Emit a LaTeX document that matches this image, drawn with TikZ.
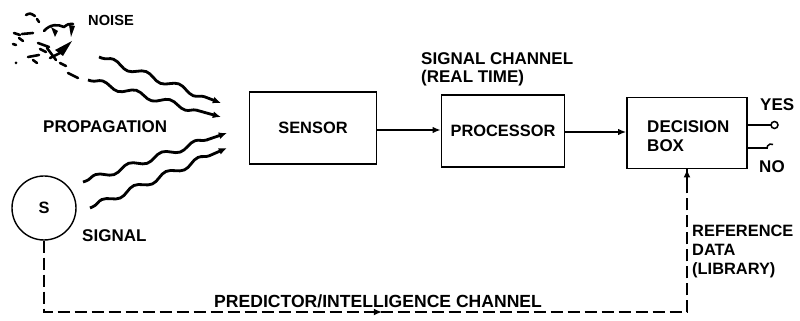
\documentclass[tikz,border=0pt]{standalone}
\usepackage{fontspec}
\setmainfont{Liberation Sans}
\usetikzlibrary{arrows.meta,decorations.pathmorphing,calc}
\begin{document}
\begin{tikzpicture}[x=0.03cm,y=-0.03cm,
  every node/.style={font=\fontsize{14.5}{16}\selectfont\bfseries, inner sep=0pt},
  small/.style={font=\fontsize{14}{16}\selectfont\bfseries},
  block/.style={draw, line width=1.2pt, minimum width=#1, minimum height=2.16cm},
  flow/.style={line width=1.3pt, -{Latex[length=7pt,width=5.5pt]}},
  wave/.style={line width=2.4pt, decorate,
    decoration={snake, segment length=1.05cm, amplitude=0.09cm,
      pre length=0.1cm, post length=0.25cm},
    -{Latex[length=7pt,width=6pt]}},
  fb/.style={line width=2.4pt, dash pattern=on 0.36cm off 0.15cm},
  speck/.style={line width=2.2pt, line cap=round, line join=round},
]
\useasboundingbox (0,0) rectangle (800,321);

% noise source: scattered specks
\begin{scope}[speck]
  \draw (26,15) .. controls (30,13) .. (35,16);
  \draw (37,19) -- (39,22);
  \draw (44,31) .. controls (50,24) and (58,24) .. (64,27) .. controls (68,24) .. (73,24);
  \fill (69,25) -- (75,26) -- (71,37) -- cycle;
  \fill (51,27) -- (58,31) -- (55,37) -- cycle;
  \draw (14,33) -- (20,35);
  \draw (19,38) -- (23,41);
  \draw (13,44) -- (16,45);
  \draw (22,34) -- (33,33);
  \draw (38,43) -- (49,47);
  \draw (40,49) -- (46,52);
  \fill (55,50) -- (72,41) -- (63,56) -- cycle;
  \draw (47,48) -- (56,60);
  \draw (50,58) -- (60,53);
  \draw (28,57) -- (39,55);
  \draw (33,60) -- (37,63);
  \fill (16,63) circle (1.5);
  \draw (60,63) -- (66,66);
  \draw (68,73) -- (78,78);
\end{scope}

% labels
\node[anchor=west, font=\fontsize{12.5}{14}\selectfont\bfseries] (noise) at (88,20) {NOISE};
\node[anchor=west] (prop) at (43,127) {PROPAGATION};
\node[anchor=west] (siglbl) at (82,236) {SIGNAL};
\node[anchor=north west, align=left] (chan) at (421,52) {SIGNAL CHANNEL\\(REAL TIME)};

% signal source
\node[draw, circle, line width=1.2pt, minimum size=1.92cm, small] (s) at (44,208) {S};

% processing chain
\node[block=3.81cm, small] (sensor) at (313,128) {SENSOR};
\node[block=3.69cm, small] (proc) at (503,131) {PROCESSOR};
\node[block=3.6cm, minimum height=2.13cm] (dec) at (687,133) {};
\node[anchor=west, align=left] (dectxt) at (647,136) {DECISION\\BOX};

\draw[flow] (sensor.east |- 0,130) coordinate (s1) -- (proc.west |- s1);
\draw[flow] (proc.east |- 0,132) coordinate (p1) -- (dec.west |- p1);

% propagation paths
\coordinate (n1) at (99,57);   \coordinate (t1) at (221,103);
\coordinate (n2) at (88,80);   \coordinate (t2) at (221,117);
\coordinate (g1) at (83,182);  \coordinate (t3) at (227,133);
\coordinate (g2) at (90,208);  \coordinate (t4) at (227,148);
\draw[wave] (n1) -- (t1);
\draw[wave] (n2) -- (t2);
\draw[wave] (g1) -- (t3);
\draw[wave] (g2) -- (t4);

% decision outputs
\coordinate (yesend) at (771,125);
\coordinate (noend) at (768,148);
\draw[line width=1.3pt] (dec.east |- yesend) -- (yesend);
\draw[line width=1.3pt] (yesend) ++(3.5,0) circle (3.5);
\draw[line width=1.3pt] (dec.east |- noend) -- (noend);
\draw[line width=1.3pt] (noend) ++(5,-3.5) arc[start angle=-60, end angle=-190, radius=4];
\node[anchor=west] (yes) at (760,105) {YES};
\node[anchor=west] (no) at (759,167) {NO};

% predictor / intelligence channel
\coordinate (bl) at (s.south |- 0,312);
\coordinate (br) at (dec.south |- 0,312);
\coordinate (mid) at (382,312);
\draw[fb] (s.south) -- (bl) -- (br) -- (dec.south);
\draw[line width=2.4pt, -{Latex[length=7pt,width=6pt]}] ($(mid)+(-6,0)$) -- (mid);
\draw[line width=2.4pt, -{Latex[length=7pt,width=6pt]}] ($(dec.south)+(0,12)$) -- (dec.south);
\node[anchor=west, font=\fontsize{15}{16}\selectfont\bfseries] (predlbl) at (214,301) {PREDICTOR/INTELLIGENCE CHANNEL};
\node[anchor=north west, align=left, small] (ref) at (692,225) {REFERENCE\\DATA\\(LIBRARY)};
\end{tikzpicture}
\end{document}
